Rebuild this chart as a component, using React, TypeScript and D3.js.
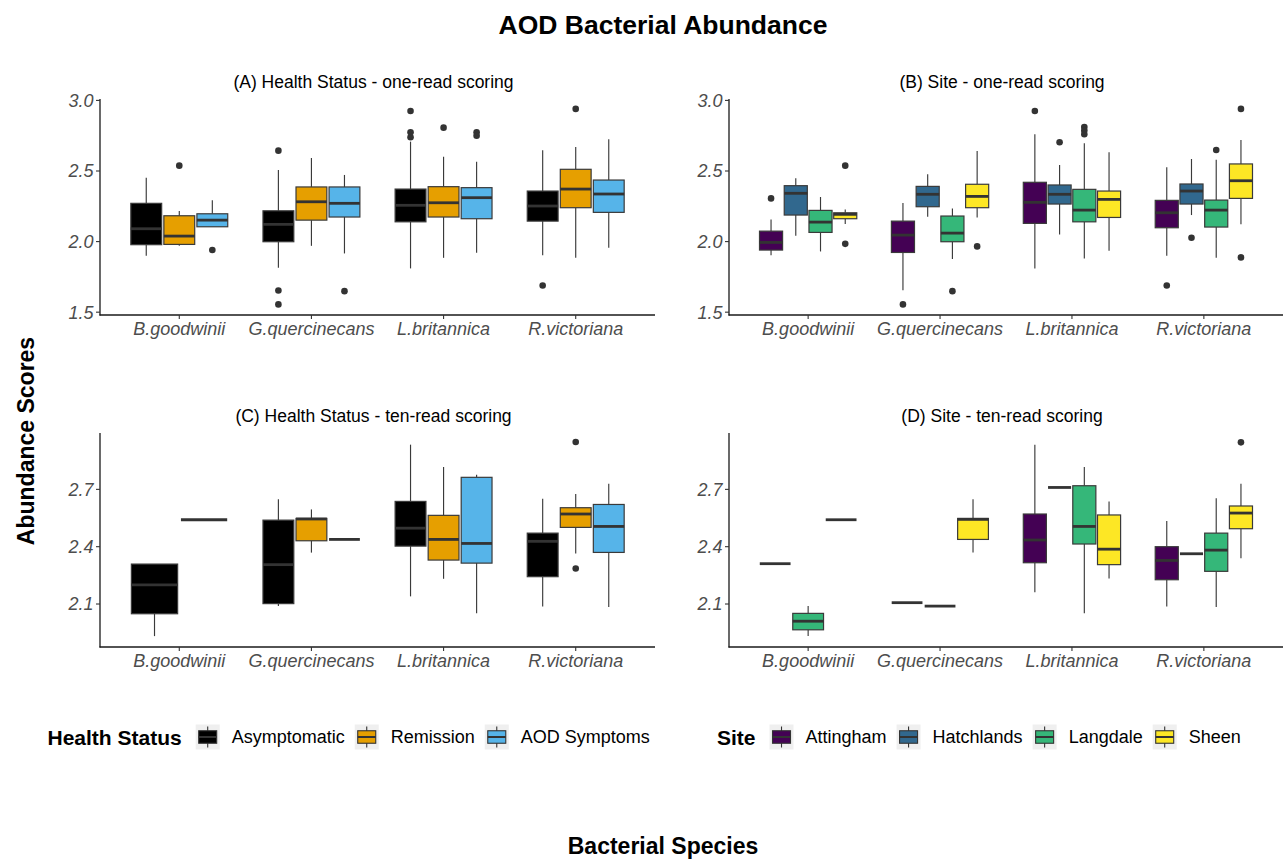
import React, { useEffect, useRef } from 'react';
import * as d3 from 'd3';

const species = ['B.goodwinii', 'G.quercinecans', 'L.britannica', 'R.victoriana'];
const healthGroups = ['Asymptomatic', 'Remission', 'AOD Symptoms'];
const healthColors = ['#000000', '#E69F00', '#56B4E9'];
const siteGroups = ['Attingham', 'Hatchlands', 'Langdale', 'Sheen'];
const siteColors = ['#440154', '#31688E', '#35B779', '#FDE725'];
const oneReadTicks = [1.5, 2.0, 2.5, 3.0];
const tenReadTicks = [2.1, 2.4, 2.7];

// species, group, lower whisker, Q1, median, Q3, upper whisker, outliers
type Row = [string, string, number, number, number, number, number, number[]];

const healthOneRead: Row[] = [
  ['B.goodwinii', 'Asymptomatic', 1.899, 1.978, 2.091, 2.271, 2.452, []],
  ['B.goodwinii', 'Remission', 1.97, 1.98, 2.039, 2.183, 2.216, [2.538]],
  ['B.goodwinii', 'AOD Symptoms', 2.105, 2.105, 2.152, 2.197, 2.292, [1.94]],
  ['G.quercinecans', 'Asymptomatic', 1.814, 1.999, 2.122, 2.218, 2.507, [2.644, 1.654, 1.555]],
  ['G.quercinecans', 'Remission', 1.97, 2.152, 2.282, 2.387, 2.592, []],
  ['G.quercinecans', 'AOD Symptoms', 1.916, 2.174, 2.271, 2.387, 2.472, [1.649]],
  ['L.britannica', 'Asymptomatic', 1.81, 2.14, 2.257, 2.372, 2.708, [2.925, 2.774, 2.739]],
  ['L.britannica', 'Remission', 1.885, 2.174, 2.275, 2.389, 2.601, [2.807]],
  ['L.britannica', 'AOD Symptoms', 1.921, 2.162, 2.311, 2.382, 2.566, [2.774, 2.75]],
  ['R.victoriana', 'Asymptomatic', 1.904, 2.145, 2.252, 2.358, 2.647, [1.689]],
  ['R.victoriana', 'Remission', 1.885, 2.24, 2.372, 2.512, 2.67, [2.94]],
  ['R.victoriana', 'AOD Symptoms', 1.956, 2.207, 2.337, 2.436, 2.725, []],
];

const siteOneRead: Row[] = [
  ['B.goodwinii', 'Attingham', 1.904, 1.94, 1.994, 2.074, 2.157, [2.306]],
  ['B.goodwinii', 'Hatchlands', 2.041, 2.188, 2.342, 2.396, 2.448, []],
  ['B.goodwinii', 'Langdale', 1.93, 2.065, 2.138, 2.221, 2.316, []],
  ['B.goodwinii', 'Sheen', 2.124, 2.162, 2.193, 2.204, 2.228, [2.538, 1.984]],
  ['G.quercinecans', 'Attingham', 1.656, 1.923, 2.046, 2.145, 2.273, [1.555]],
  ['G.quercinecans', 'Hatchlands', 2.176, 2.247, 2.335, 2.391, 2.477, []],
  ['G.quercinecans', 'Langdale', 1.876, 1.999, 2.06, 2.181, 2.235, [1.649]],
  ['G.quercinecans', 'Sheen', 2.17, 2.24, 2.32, 2.406, 2.642, [1.966]],
  ['L.britannica', 'Attingham', 1.81, 2.129, 2.278, 2.42, 2.76, [2.925]],
  ['L.britannica', 'Hatchlands', 2.051, 2.266, 2.335, 2.401, 2.543, [2.704]],
  ['L.britannica', 'Langdale', 1.881, 2.14, 2.223, 2.37, 2.696, [2.812, 2.786, 2.76]],
  ['L.britannica', 'Sheen', 1.935, 2.171, 2.299, 2.358, 2.633, []],
  ['R.victoriana', 'Attingham', 1.899, 2.098, 2.204, 2.292, 2.526, [1.689]],
  ['R.victoriana', 'Hatchlands', 2.188, 2.266, 2.358, 2.408, 2.585, [2.027]],
  ['R.victoriana', 'Langdale', 1.885, 2.103, 2.223, 2.294, 2.58, [2.649]],
  ['R.victoriana', 'Sheen', 2.122, 2.306, 2.431, 2.55, 2.72, [2.94, 1.888]],
];

const healthTenRead: Row[] = [
  ['B.goodwinii', 'Asymptomatic', 1.932, 2.049, 2.2, 2.309, 2.309, []],
  ['B.goodwinii', 'Remission', 2.541, 2.541, 2.541, 2.541, 2.541, []],
  ['G.quercinecans', 'Asymptomatic', 2.089, 2.102, 2.306, 2.539, 2.648, []],
  ['G.quercinecans', 'Remission', 2.369, 2.431, 2.545, 2.548, 2.595, []],
  ['G.quercinecans', 'AOD Symptoms', 2.438, 2.438, 2.438, 2.438, 2.438, []],
  ['L.britannica', 'Asymptomatic', 2.14, 2.403, 2.497, 2.637, 2.934, []],
  ['L.britannica', 'Remission', 2.232, 2.33, 2.438, 2.564, 2.817, []],
  ['L.britannica', 'AOD Symptoms', 2.052, 2.314, 2.417, 2.763, 2.777, []],
  ['R.victoriana', 'Asymptomatic', 2.087, 2.243, 2.428, 2.471, 2.651, []],
  ['R.victoriana', 'Remission', 2.365, 2.501, 2.571, 2.604, 2.676, [2.948, 2.286]],
  ['R.victoriana', 'AOD Symptoms', 2.084, 2.37, 2.506, 2.621, 2.73, []],
];

const siteTenRead: Row[] = [
  ['B.goodwinii', 'Attingham', 2.311, 2.311, 2.311, 2.311, 2.311, []],
  ['B.goodwinii', 'Langdale', 1.932, 1.965, 2.01, 2.051, 2.089, []],
  ['B.goodwinii', 'Sheen', 2.541, 2.541, 2.541, 2.541, 2.541, []],
  ['G.quercinecans', 'Attingham', 2.107, 2.107, 2.107, 2.107, 2.107, []],
  ['G.quercinecans', 'Hatchlands', 2.089, 2.089, 2.089, 2.089, 2.089, []],
  ['G.quercinecans', 'Sheen', 2.369, 2.438, 2.543, 2.548, 2.648, []],
  ['L.britannica', 'Attingham', 2.162, 2.316, 2.435, 2.571, 2.934, []],
  ['L.britannica', 'Hatchlands', 2.71, 2.71, 2.71, 2.71, 2.71, []],
  ['L.britannica', 'Langdale', 2.052, 2.414, 2.506, 2.719, 2.817, []],
  ['L.britannica', 'Sheen', 2.234, 2.306, 2.387, 2.566, 2.637, []],
  ['R.victoriana', 'Attingham', 2.087, 2.227, 2.328, 2.4, 2.534, []],
  ['R.victoriana', 'Hatchlands', 2.363, 2.363, 2.363, 2.363, 2.363, []],
  ['R.victoriana', 'Langdale', 2.084, 2.271, 2.382, 2.471, 2.653, []],
  ['R.victoriana', 'Sheen', 2.339, 2.494, 2.576, 2.613, 2.73, [2.946]],
];

const FONT = '"Liberation Sans", Arial, Helvetica, sans-serif';

export default function App() {
  const ref = useRef<SVGSVGElement>(null);

  useEffect(() => {
    const svg = d3.select(ref.current);
    svg.selectAll('*').remove();

    const panels = [
      { title: '(A) Health Status - one-read scoring', data: healthOneRead, groups: healthGroups, colors: healthColors, left: 100, right: 655, top: 99, bottom: 315, domain: [1.48, 3.01], ticks: oneReadTicks },
      { title: '(B) Site - one-read scoring', data: siteOneRead, groups: siteGroups, colors: siteColors, left: 729, right: 1283, top: 99, bottom: 315, domain: [1.48, 3.01], ticks: oneReadTicks },
      { title: '(C) Health Status - ten-read scoring', data: healthTenRead, groups: healthGroups, colors: healthColors, left: 100, right: 655, top: 433, bottom: 647, domain: [1.875, 2.995], ticks: tenReadTicks },
      { title: '(D) Site - ten-read scoring', data: siteTenRead, groups: siteGroups, colors: siteColors, left: 729, right: 1283, top: 433, bottom: 647, domain: [1.875, 2.995], ticks: tenReadTicks },
    ];

    panels.forEach((p) => {
      const g = svg.append('g');
      const x = d3.scaleLinear().domain([0.4, 4.6]).range([p.left, p.right]);
      const y = d3.scaleLinear().domain(p.domain).range([p.bottom, p.top]);
      const color = d3.scaleOrdinal<string, string>().domain(p.groups).range(p.colors);
      const unit = x(1) - x(0);

      species.forEach((s, i) => {
        const rows = p.data
          .filter((r) => r[0] === s)
          .sort((a, b) => p.groups.indexOf(a[1]) - p.groups.indexOf(b[1]));
        const n = rows.length;
        rows.forEach((r, j) => {
          const [, grp, lo, q1, med, q3, hi, outs] = r;
          const cx = x(i + 1 + 0.75 * ((j + 0.5) / n - 0.5));
          const bw = (0.7 / n) * unit;
          g.append('line').attr('x1', cx).attr('x2', cx).attr('y1', y(hi)).attr('y2', y(q3))
            .attr('stroke', '#3a3a3a').attr('stroke-width', 1.15);
          g.append('line').attr('x1', cx).attr('x2', cx).attr('y1', y(q1)).attr('y2', y(lo))
            .attr('stroke', '#3a3a3a').attr('stroke-width', 1.15);
          g.append('rect').attr('x', cx - bw / 2).attr('y', y(q3)).attr('width', bw)
            .attr('height', Math.max(0, y(q1) - y(q3)))
            .attr('fill', color(grp)).attr('stroke', '#3a3a3a').attr('stroke-width', 1.2);
          g.append('line').attr('x1', cx - bw / 2).attr('x2', cx + bw / 2).attr('y1', y(med)).attr('y2', y(med))
            .attr('stroke', '#333333').attr('stroke-width', 2.8);
          outs.forEach((o) => {
            g.append('circle').attr('cx', cx).attr('cy', y(o)).attr('r', 3.3).attr('fill', '#333333');
          });
        });
      });

      // axes
      g.append('line').attr('x1', p.left).attr('x2', p.left).attr('y1', p.top).attr('y2', p.bottom + 0.5)
        .attr('stroke', '#1a1a1a').attr('stroke-width', 1.3);
      g.append('line').attr('x1', p.left - 0.5).attr('x2', p.right).attr('y1', p.bottom).attr('y2', p.bottom)
        .attr('stroke', '#1a1a1a').attr('stroke-width', 1.3);
      p.ticks.forEach((t) => {
        g.append('line').attr('x1', p.left - 4).attr('x2', p.left).attr('y1', y(t)).attr('y2', y(t))
          .attr('stroke', '#333333').attr('stroke-width', 1.1);
        g.append('text').attr('x', p.left - 6.5).attr('y', y(t)).attr('dy', '0.36em')
          .attr('text-anchor', 'end').attr('font-family', FONT).attr('font-size', 18)
          .attr('font-style', 'italic').attr('fill', '#4D4D4D').text(d3.format('.1f')(t));
      });
      species.forEach((s, i) => {
        g.append('line').attr('x1', x(i + 1)).attr('x2', x(i + 1)).attr('y1', p.bottom).attr('y2', p.bottom + 4)
          .attr('stroke', '#333333').attr('stroke-width', 1.1);
        g.append('text').attr('x', x(i + 1)).attr('y', p.bottom + 19.5)
          .attr('text-anchor', 'middle').attr('font-family', FONT).attr('font-size', 18)
          .attr('font-style', 'italic').attr('fill', '#4D4D4D').text(s);
      });
      g.append('text').attr('x', (p.left + p.right) / 2 - 4).attr('y', p.top - 11.5)
        .attr('text-anchor', 'middle').attr('font-family', FONT).attr('font-size', 17.5)
        .attr('fill', '#000').text(p.title);
    });

    // titles
    svg.append('text').attr('x', 663).attr('y', 34).attr('text-anchor', 'middle')
      .attr('font-family', FONT).attr('font-size', 26.5).attr('font-weight', 'bold').text('AOD Bacterial Abundance');
    svg.append('text').attr('transform', 'translate(26,441) rotate(-90)').attr('dy', '0.36em')
      .attr('text-anchor', 'middle').attr('font-family', FONT).attr('font-size', 23)
      .attr('font-weight', 'bold').text('Abundance Scores');
    svg.append('text').attr('x', 663).attr('y', 854).attr('text-anchor', 'middle')
      .attr('font-family', FONT).attr('font-size', 23).attr('font-weight', 'bold').text('Bacterial Species');

    // legends
    const legend = (startX: number, title: string, groups: string[], colors: string[]) => {
      const cy = 737;
      const lg = svg.append('g');
      const t = lg.append('text').attr('x', startX).attr('y', cy).attr('dy', '0.36em')
        .attr('font-family', FONT).attr('font-size', 21).attr('font-weight', 'bold').text(title);
      let cx = startX + (t.node() as SVGTextElement).getComputedTextLength() + 14;
      const kw = 24, kh = 25;
      groups.forEach((grp, i) => {
        const ky = cy - kh / 2;
        lg.append('rect').attr('x', cx).attr('y', ky).attr('width', kw).attr('height', kh).attr('fill', '#EFEFEF');
        const mx = cx + kw / 2;
        lg.append('line').attr('x1', mx).attr('x2', mx).attr('y1', ky + kh * 0.08).attr('y2', ky + kh * 0.92)
          .attr('stroke', '#333333').attr('stroke-width', 1.1);
        lg.append('rect').attr('x', cx + kw * 0.125).attr('y', ky + kh * 0.25).attr('width', kw * 0.75)
          .attr('height', kh * 0.5).attr('fill', colors[i]).attr('stroke', '#333333').attr('stroke-width', 1.1);
        lg.append('line').attr('x1', cx + kw * 0.125).attr('x2', cx + kw * 0.875).attr('y1', cy).attr('y2', cy)
          .attr('stroke', '#333333').attr('stroke-width', 2);
        const lt = lg.append('text').attr('x', cx + kw + 12).attr('y', cy).attr('dy', '0.36em')
          .attr('font-family', FONT).attr('font-size', 18).text(grp);
        cx = cx + kw + 12 + (lt.node() as SVGTextElement).getComputedTextLength() + 10;
      });
    };
    legend(47.5, 'Health Status', healthGroups, healthColors);
    legend(717, 'Site', siteGroups, siteColors);
  }, []);

  return (
    <svg
      ref={ref}
      width={1284}
      height={861}
      style={{ position: 'absolute', left: 0, top: 0, display: 'block', background: '#fff' }}
    />
  );
}
